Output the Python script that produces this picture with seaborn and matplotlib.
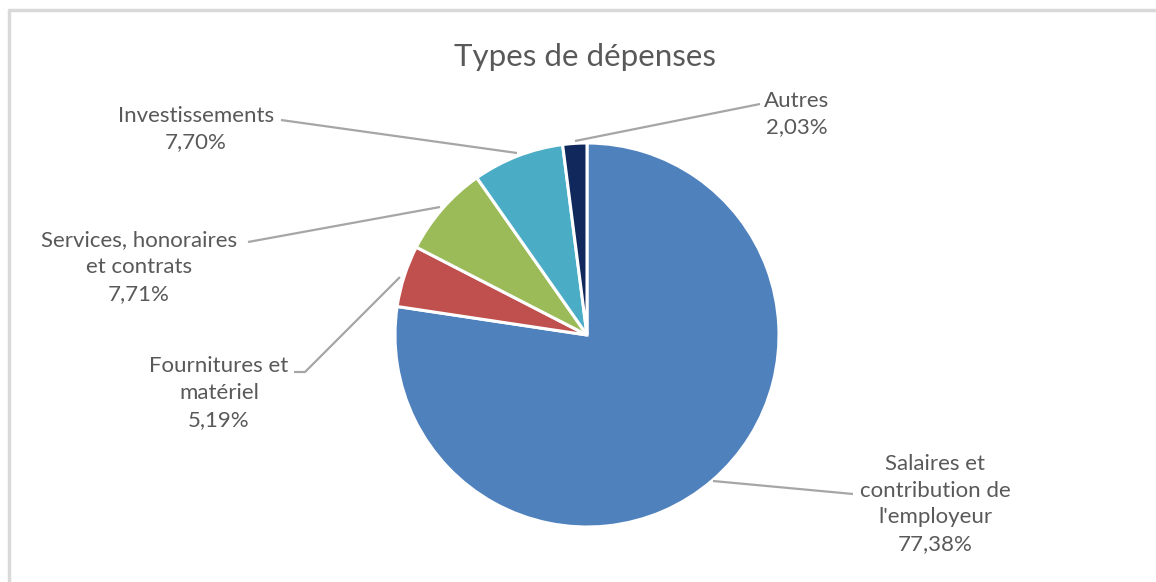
import matplotlib
matplotlib.use("Agg")
import matplotlib.pyplot as plt
from matplotlib.lines import Line2D
import seaborn as sns

sns.set_theme(style="white")
plt.rcParams['font.family'] = ['Lato', 'DejaVu Sans']

# Data
categories = ["Salaires et\ncontribution de\nl'employeur", "Fournitures et\nmatériel",
              "Services, honoraires\net contrats", "Investissements", "Autres"]
values = [77.38, 5.19, 7.71, 7.70, 2.03]
value_labels = ["77,38%", "5,19%", "7,71%", "7,70%", "2,03%"]
colors = ["#4F81BD", "#C0504D", "#9BBB59", "#4BACC6", "#10285C"]

W, H = 1156, 582
fig = plt.figure(figsize=(W / 100, H / 100), dpi=100)
ax = fig.add_axes([0, 0, 1, 1])

cx, cy, r = 587, H - 335, 192
ax.pie(values, colors=colors, startangle=90, counterclock=False,
       center=(cx, cy), radius=r, frame=True,
       wedgeprops=dict(edgecolor='white', linewidth=2.2))
ax.set_xlim(0, W)
ax.set_ylim(0, H)
ax.set_aspect('equal')
ax.axis('off')

txt_color = "#595959"
line_color = "#A6A6A6"

# Title
ax.text(585, H - 57, "Types de dépenses", ha='center', va='center',
        fontsize=22.5, color=txt_color)

# label anchor positions (pixel coords from top) and leader lines
label_pos = [(935, 504), (219, 393), (139, 267), (196, 129), (797, 114)]
leaders = [
    [(713, 481), (853, 494)],
    [(400, 277), (305, 372), (294, 372)],
    [(440, 207), (248, 242)],
    [(517, 153), (281, 120)],
    [(575, 141), (760, 104)],
]
for cat, vl, (lx, ly) in zip(categories, value_labels, label_pos):
    ax.text(lx, H - ly, cat + "\n" + vl, ha='center', va='center',
            fontsize=16, color=txt_color, linespacing=1.42)
for pts in leaders:
    xs = [p[0] for p in pts]
    ys = [H - p[1] for p in pts]
    ax.plot(xs, ys, color=line_color, linewidth=1.6, solid_capstyle='butt')

# light border (top and left)
fig.add_artist(Line2D([9 / W, 1], [1 - 10 / H, 1 - 10 / H], color="#D9D9D9", linewidth=2.5))
fig.add_artist(Line2D([9 / W, 9 / W], [0, 1 - 10 / H], color="#D9D9D9", linewidth=2.5))

fig.savefig("out.png", dpi=100, facecolor='white')
